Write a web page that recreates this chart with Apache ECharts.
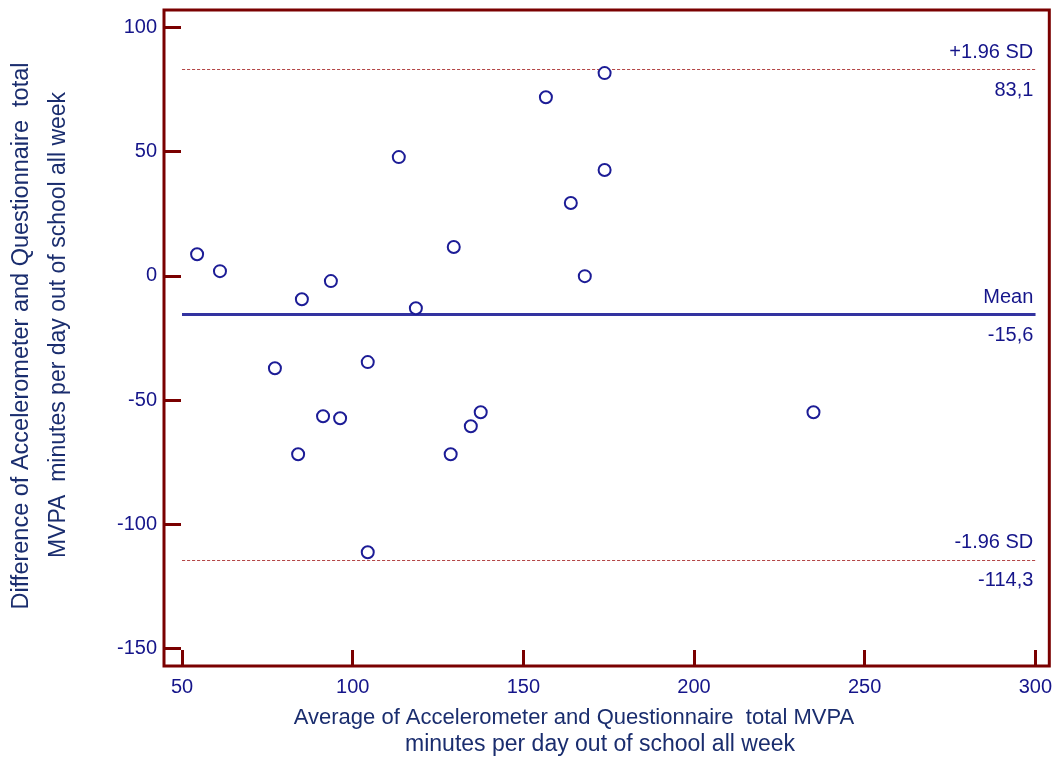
<!DOCTYPE html>
<html>
<head>
<meta charset="utf-8">
<script src="https://cdn.jsdelivr.net/npm/echarts@6/dist/echarts.min.js"></script>
<style>
  html, body { margin: 0; padding: 0; background: #fff; }
  #chart { width: 1055px; height: 758px; }
</style>
</head>
<body>
<div id="chart"></div>
<script>
// averages (x) and differences (y)
const avgValues = [54.4, 61.1, 77.2, 84.0, 85.1, 91.3, 93.6, 96.3, 104.4, 104.4, 113.5,
    118.5, 128.7, 129.6, 134.6, 137.5, 156.6, 163.9, 168.0, 173.8, 173.8, 235.0];
const diffValues = [8.7, 1.9, -37.2, -71.8, -9.4, -56.5, -2.1, -57.3, -34.7, -111.2, 47.8,
    -13.0, -71.8, 11.6, -60.5, -54.9, 71.9, 29.3, -0.1, 81.6, 42.6, -54.9];

const xTicks = [50, 100, 150, 200, 250, 300];
const yTicks = [-150, -100, -50, 0, 50, 100];

const limitValues = [83.1, -15.6, -114.3];
const limitNames = ["+1.96 SD", "Mean", "-1.96 SD"];
const limitTexts = ["83,1", "-15,6", "-114,3"];

const FRAME = "#7a0000";
const TXT = "#15158a";
const TITLE = "#1a2d6e";
const FONT = "Liberation Sans, Arial, sans-serif";

const chart = echarts.init(document.getElementById("chart"));

const lineStyleFor = i => i === 1
    ? { color: "#3333a0", width: 3, type: "solid", opacity: 1 }
    : { color: "#b44848", width: 1, type: [3, 2], opacity: 1 };

const markData = [];
limitValues.forEach((v, i) => {
    const x0 = xTicks[0], x1 = xTicks[xTicks.length - 1];
    markData.push([
        { coord: [x0, v], lineStyle: lineStyleFor(i),
          label: { show: true, position: "insideEndTop", distance: [2, 7], formatter: limitNames[i] } },
        { coord: [x1, v] }
    ]);
    markData.push([
        { coord: [x0, v], lineStyle: lineStyleFor(i),
          label: { show: true, position: "insideEndBottom", distance: [2, 11], formatter: limitTexts[i] } },
        { coord: [x1, v] }
    ]);
});

const option = {
    backgroundColor: "#fff",
    animation: false,
    grid: {
        show: true, left: 164, right: 5, top: 10, bottom: 92,
        borderColor: FRAME, borderWidth: 3, backgroundColor: "transparent"
    },
    xAxis: {
        type: "value", min: 44.7, max: 304.1,
        axisLine: { show: false, onZero: false },
        splitLine: { show: false },
        axisTick: { inside: true, length: 16, customValues: xTicks,
            lineStyle: { color: FRAME, width: 3 } },
        axisLabel: { customValues: xTicks, margin: 11, color: TXT, fontSize: 20, fontFamily: FONT }
    },
    yAxis: {
        type: "value", min: -157, max: 107,
        axisLine: { show: false, onZero: false },
        splitLine: { show: false },
        axisTick: { inside: true, length: 17, customValues: yTicks,
            lineStyle: { color: FRAME, width: 3 } },
        axisLabel: { customValues: yTicks, margin: 7, color: TXT, fontSize: 20, fontFamily: FONT }
    },
    graphic: [
        { type: "text", x: 22, y: 336, rotation: Math.PI / 2,
          style: { text: "Difference of Accelerometer and Questionnaire  total", fill: TITLE,
              font: "23.5px " + FONT, textAlign: "center", textVerticalAlign: "middle" } },
        { type: "text", x: 59, y: 325, rotation: Math.PI / 2,
          style: { text: "MVPA  minutes per day out of school all week", fill: TITLE,
              font: "23px " + FONT, textAlign: "center", textVerticalAlign: "middle" } },
        { type: "text", x: 574, y: 718,
          style: { text: "Average of Accelerometer and Questionnaire  total MVPA", fill: TITLE,
              font: "22px " + FONT, textAlign: "center", textVerticalAlign: "middle" } },
        { type: "text", x: 600, y: 745,
          style: { text: "minutes per day out of school all week", fill: TITLE,
              font: "23px " + FONT, textAlign: "center", textVerticalAlign: "middle" } }
    ],
    series: [
        {
            type: "scatter",
            data: avgValues.map((x, i) => [x, diffValues[i]]),
            symbol: "emptyCircle",
            symbolSize: 12,
            itemStyle: { color: "#1c1c96", borderWidth: 1.6, opacity: 1 },
            z: 3,
            markLine: {
                silent: true,
                symbol: "none",
                label: { color: TXT, fontSize: 20, fontFamily: FONT },
                data: markData,
                z: 2
            }
        }
    ]
};

chart.setOption(option);
</script>
</body>
</html>
